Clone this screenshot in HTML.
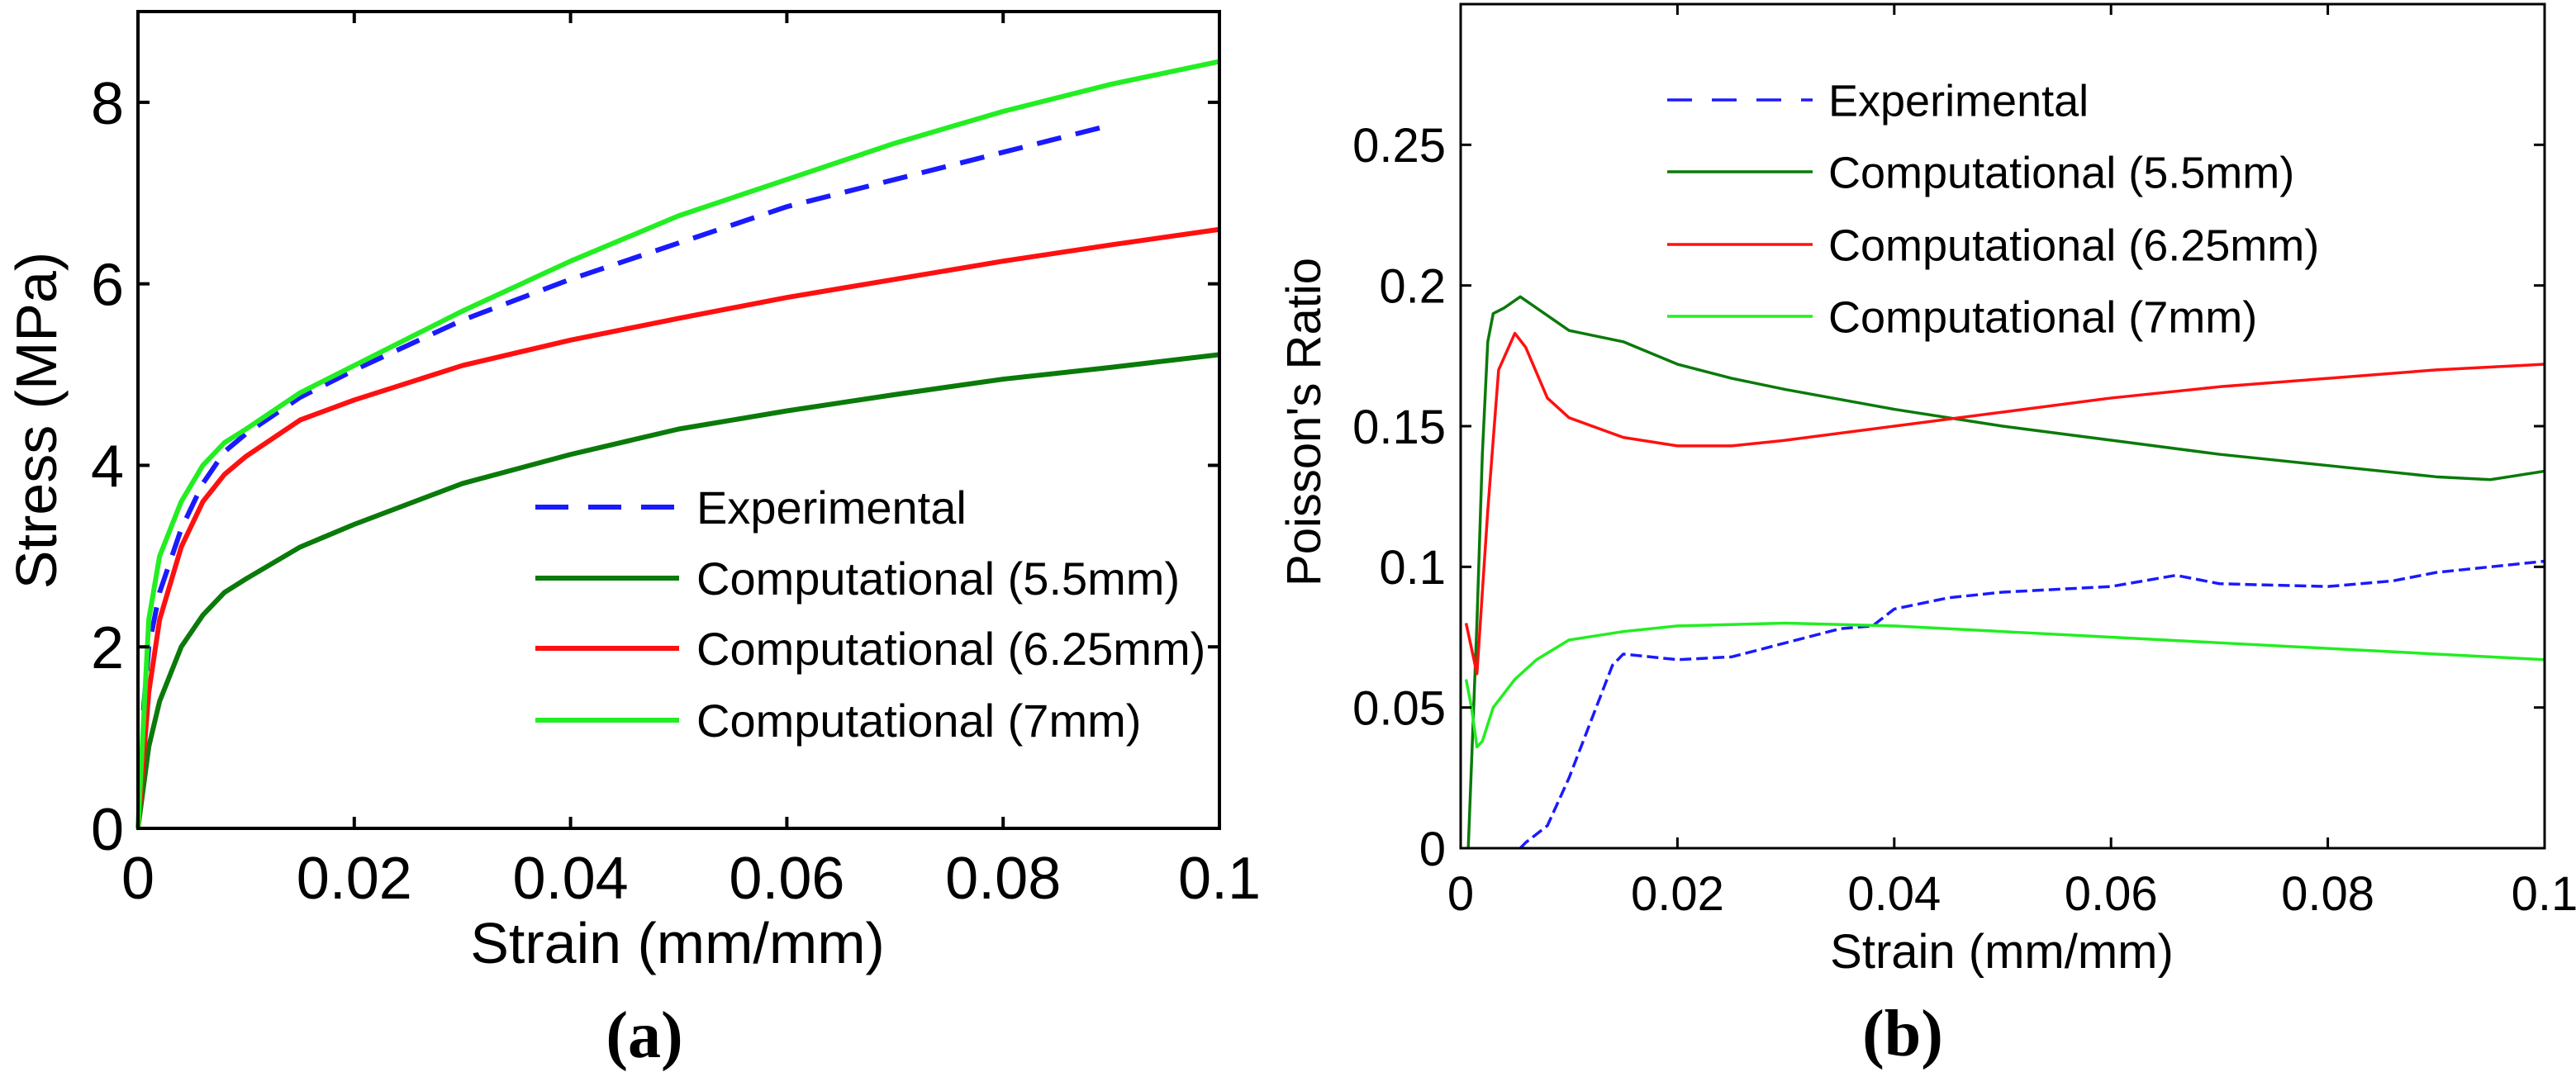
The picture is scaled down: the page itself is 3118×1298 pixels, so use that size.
<!DOCTYPE html>
<html><head><meta charset="utf-8"><style>
html,body{margin:0;padding:0;background:#fff}
svg{display:block}
text{font-family:"Liberation Sans",Arial,sans-serif;fill:#000}
</style></head><body>
<svg id="fig" width="3118" height="1298" viewBox="0 0 3118 1298" xmlns="http://www.w3.org/2000/svg">
<rect width="3118" height="1298" fill="#fff"/>
<g id="pa"></g>
<g id="pb"></g>
<text x="780" y="1280" font-size="80" font-weight="bold" text-anchor="middle" style="font-family:'Liberation Serif',serif">(a)</text>
<text x="2303" y="1278" font-size="80" font-weight="bold" text-anchor="middle" style="font-family:'Liberation Serif',serif">(b)</text>
</svg>
<script>
// ---- Panel (a) data ----
const aExpX = [0.0005,0.001,0.002,0.004,0.006,0.008,0.01,0.015,0.02,0.03,0.04,0.05,0.06,0.07,0.08,0.089];
const aExpY = [1.3,2.0,2.6,3.3,3.8,4.15,4.35,4.75,5.05,5.6,6.05,6.45,6.85,7.15,7.45,7.72];
const aX = [0,0.001,0.002,0.004,0.006,0.008,0.01,0.015,0.02,0.03,0.04,0.05,0.06,0.07,0.08,0.09,0.1];
const a55Y = [0,0.9,1.4,2.0,2.35,2.6,2.75,3.1,3.35,3.8,4.12,4.4,4.6,4.78,4.95,5.08,5.22];
const a625Y = [0,1.5,2.3,3.1,3.6,3.9,4.1,4.5,4.72,5.1,5.38,5.62,5.85,6.05,6.25,6.43,6.6];
const a7Y = [0,2.3,3.0,3.6,4.0,4.25,4.4,4.8,5.1,5.7,6.25,6.75,7.15,7.55,7.9,8.2,8.45];
const aXTicks = [0,0.02,0.04,0.06,0.08,0.1];
const aXTickLabels = ["0","0.02","0.04","0.06","0.08","0.1"];
const aYTicks = [0,2,4,6,8];
const aYTickLabels = ["0","2","4","6","8"];
// ---- Panel (b) data ----
const bExpX = [0.0055,0.006,0.008,0.01,0.012,0.014,0.015,0.02,0.025,0.03,0.035,0.038,0.04,0.045,0.05,0.06,0.066,0.07,0.08,0.086,0.09,0.1];
const bExpY = [0,0.002,0.008,0.025,0.045,0.065,0.069,0.067,0.068,0.073,0.078,0.079,0.085,0.089,0.091,0.093,0.097,0.094,0.093,0.095,0.098,0.102];
const b55X = [0.0007,0.0015,0.002,0.0025,0.003,0.004,0.0055,0.007,0.01,0.015,0.02,0.025,0.03,0.04,0.05,0.06,0.07,0.08,0.09,0.095,0.1];
const b55Y = [0,0.08,0.14,0.18,0.19,0.192,0.196,0.192,0.184,0.18,0.172,0.167,0.163,0.156,0.15,0.145,0.14,0.136,0.132,0.131,0.134];
const b625X = [0.0005,0.0015,0.0025,0.0035,0.005,0.006,0.008,0.01,0.015,0.02,0.025,0.03,0.04,0.05,0.06,0.07,0.08,0.09,0.1];
const b625Y = [0.08,0.062,0.12,0.17,0.183,0.178,0.16,0.153,0.146,0.143,0.143,0.145,0.15,0.155,0.16,0.164,0.167,0.17,0.172];
const b7X = [0.0005,0.001,0.0015,0.002,0.003,0.005,0.007,0.01,0.015,0.02,0.03,0.04,0.05,0.06,0.07,0.08,0.09,0.1];
const b7Y = [0.06,0.05,0.036,0.038,0.05,0.06,0.067,0.074,0.077,0.079,0.08,0.079,0.077,0.075,0.073,0.071,0.069,0.067];
const bXTicks = [0,0.02,0.04,0.06,0.08,0.1];
const bXTickLabels = ["0","0.02","0.04","0.06","0.08","0.1"];
const bYTicks = [0,0.05,0.1,0.15,0.2,0.25];
const bYTickLabels = ["0","0.05","0.1","0.15","0.2","0.25"];
const legendLabels = ["Experimental","Computational (5.5mm)","Computational (6.25mm)","Computational (7mm)"];

const NS="http://www.w3.org/2000/svg";
function mk(parent,tag,attrs){const e=document.createElementNS(NS,tag);for(const k in attrs)e.setAttribute(k,attrs[k]);parent.appendChild(e);return e;}

function drawPanel(g,cfg){
  const sx=v=>cfg.L+(v-cfg.x0)/(cfg.x1-cfg.x0)*(cfg.R-cfg.L);
  const sy=v=>cfg.B-(v-cfg.y0)/(cfg.y1-cfg.y0)*(cfg.B-cfg.T);
  // series
  cfg.series.forEach(s=>{
    const p=mk(g,'polyline',{points:s.x.map((v,i)=>sx(v)+','+sy(s.y[i])).join(' '),fill:'none',stroke:s.color,'stroke-width':cfg.lw,'stroke-linejoin':'round'});
    if(s.dash)p.setAttribute('stroke-dasharray',s.dash);
    
    
  });
  // frame
  const fr=mk(g,'rect',{x:cfg.L,y:cfg.T,width:cfg.R-cfg.L,height:cfg.B-cfg.T,fill:'none',stroke:'#000','stroke-width':cfg.fw});
  
  
  cfg.xt.forEach((v,i)=>{
    const x=sx(v);
    mk(g,'line',{x1:x,y1:cfg.B,x2:x,y2:cfg.B-cfg.tl,stroke:'#000','stroke-width':cfg.fw});
    mk(g,'line',{x1:x,y1:cfg.T,x2:x,y2:cfg.T+cfg.tl,stroke:'#000','stroke-width':cfg.fw});
    const t=mk(g,'text',{x:x,y:cfg.xly,'font-size':cfg.tfs,'text-anchor':'middle'});
    t.textContent=cfg.xtl[i];
    
    
  });
  cfg.yt.forEach((v,i)=>{
    const y=sy(v);
    mk(g,'line',{x1:cfg.L,y1:y,x2:cfg.L+cfg.tl,y2:y,stroke:'#000','stroke-width':cfg.fw});
    mk(g,'line',{x1:cfg.R,y1:y,x2:cfg.R-cfg.tl,y2:y,stroke:'#000','stroke-width':cfg.fw});
    const t=mk(g,'text',{x:cfg.ylx,y:y+cfg.tfs*0.36,'font-size':cfg.tfs,'text-anchor':'end'});
    t.textContent=cfg.ytl[i];
    
    
  });
  const xt=mk(g,'text',{x:cfg.xtx,y:cfg.xty,'font-size':cfg.afs,'text-anchor':'middle'});
  xt.textContent='Strain (mm/mm)';
  
  
  const yt=mk(g,'text',{x:0,y:0,'font-size':cfg.afs,'text-anchor':'middle',transform:`translate(${cfg.ytx},${cfg.yty}) rotate(-90)`});
  yt.textContent=cfg.ytitle;
  
  
  // legend
  cfg.series.forEach((s,i)=>{
    const y=cfg.legY[i];
    const l=mk(g,'line',{x1:cfg.legX0,y1:y,x2:cfg.legX1,y2:y,stroke:s.color,'stroke-width':cfg.lw});
    if(s.dash)l.setAttribute('stroke-dasharray',s.legDash);
    
    
    const t=mk(g,'text',{x:cfg.legTX,y:y+cfg.lfs*0.36,'font-size':cfg.lfs});
    t.textContent=legendLabels[i];
    
    
  });
}

drawPanel(document.getElementById('pa'),{
  L:167,R:1476,T:14,B:1003,x0:0,x1:0.1,y0:0,y1:9,lw:6,fw:4,tl:14,
  xt:aXTicks,xtl:aXTickLabels,yt:aYTicks,ytl:aYTickLabels,tfs:72,xly:1088,ylx:150,
  afs:70,xtx:820,xty:1166,ytx:68,yty:509,ytitle:'Stress (MPa)',
  legX0:648,legX1:822,legTX:843,legY:[614,700,785,872],lfs:56,
  series:[
    {name:'experimental-line',x:aExpX,y:aExpY,color:'#1a1aff',dash:'30 18',legDash:'40 24'},
    {name:'computational-5.5mm-line',x:aX,y:a55Y,color:'#0a7a0a'},
    {name:'computational-6.25mm-line',x:aX,y:a625Y,color:'#ff1010'},
    {name:'computational-7mm-line',x:aX,y:a7Y,color:'#22ee22'}
  ]
});
drawPanel(document.getElementById('pb'),{
  L:1768,R:3080,T:5,B:1027,x0:0,x1:0.1,y0:0,y1:0.3,lw:3.5,fw:3,tl:13,
  xt:bXTicks,xtl:bXTickLabels,yt:bYTicks,ytl:bYTickLabels,tfs:58,xly:1102,ylx:1750,
  afs:58,xtx:2423,xty:1172,ytx:1598,yty:511,ytitle:"Poisson's Ratio",
  legX0:2018,legX1:2194,legTX:2213,legY:[121,208,296,383],lfs:54,
  series:[
    {name:'experimental-line',x:bExpX,y:bExpY,color:'#1a1aff',dash:'14 6',legDash:'30 24'},
    {name:'computational-5.5mm-line',x:b55X,y:b55Y,color:'#0a7a0a'},
    {name:'computational-6.25mm-line',x:b625X,y:b625Y,color:'#ff1010'},
    {name:'computational-7mm-line',x:b7X,y:b7Y,color:'#22ee22'}
  ]
});
</script>
</body></html>
